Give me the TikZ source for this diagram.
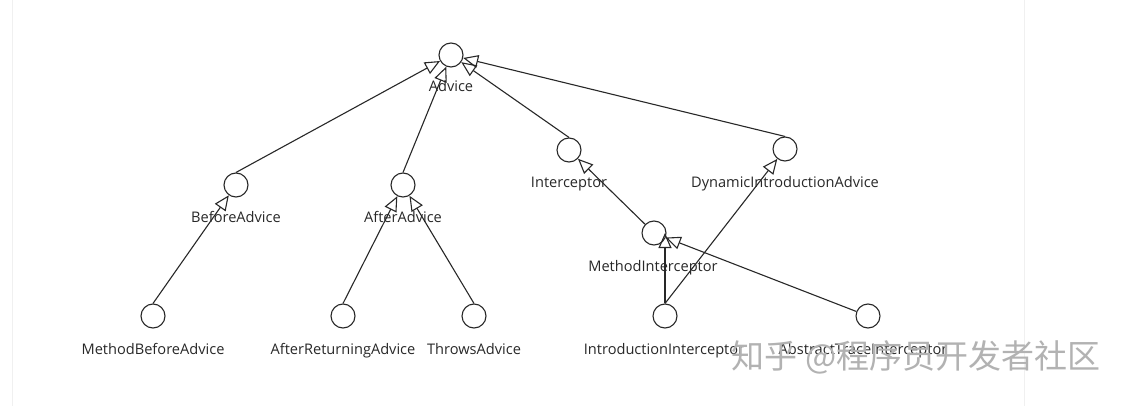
\documentclass[tikz,border=0pt]{standalone}
\usepackage{fontspec}
\setmainfont{Open Sans}
\newfontfamily\cjk{Noto Sans CJK SC}
\usetikzlibrary{arrows.meta}
\definecolor{ink}{RGB}{40,40,40}
\definecolor{wm}{RGB}{178,178,178}
\definecolor{edge}{RGB}{240,240,240}
\begin{document}
\begin{tikzpicture}[x=1pt,y=-1pt,
  cls/.style={circle,draw=ink,line width=1.1pt,minimum size=24pt,inner sep=0pt},
  lbl/.style={anchor=base,text=ink,font=\fontsize{14.6}{16}\selectfont,inner sep=0pt},
  gen/.style={draw=ink,line width=1.1pt,-{Triangle[open,length=15pt,width=13pt,line width=1.1pt]}}]
\path[use as bounding box,fill=white] (0,0) rectangle (1131,406);
\draw[edge,line width=0.8pt] (12,0) -- (12,406);
\draw[edge,line width=0.8pt] (1024,0) -- (1024,406);
% class circles
\node[cls] (adv) at (451,55) {};
\node[cls] (ba)  at (236,185) {};
\node[cls] (aa)  at (403,185) {};
\node[cls] (ic)  at (569,150) {};
\node[cls] (dia) at (785,149) {};
\node[cls] (mi)  at (654,233) {};
\node[cls] (mba) at (153,316) {};
\node[cls] (ara) at (343,316) {};
\node[cls] (ta)  at (474,316) {};
\node[cls] (ii)  at (665,316) {};
\node[cls] (ati) at (868,316) {};
% labels
\node[lbl] (advl) at (451,92) {Advice};
\node[lbl] (bal)  at (236,222) {BeforeAdvice};
\node[lbl] (aal)  at (403,222) {AfterAdvice};
\node[lbl] (icl)  at (569,187) {Interceptor};
\node[lbl] (dial) at (785,187) {DynamicIntroductionAdvice};
\node[lbl] (mil)  at (653,271) {MethodInterceptor};
\node[lbl] (mbal) at (153,354) {MethodBeforeAdvice};
\node[lbl] (aral) at (343,354) {AfterReturningAdvice};
\node[lbl] (tal)  at (474,354) {ThrowsAdvice};
\node[lbl] (iil)  at (664,354) {IntroductionInterceptor};
\node[lbl] (atil) at (863,354) {AbstractTraceInterceptor};
% generalizations
\draw[gen] (ba.north) -- (adv);
\draw[gen] (aa.north) -- (adv);
\draw[gen] (ic.north) -- (adv);
\draw[gen] (dia.north) -- (adv);
\draw[gen] (mba.north) -- (ba);
\draw[gen] (ara.north) -- (aa);
\draw[gen] (ta.north) -- (aa);
\draw[gen] (mi) -- (ic);
\draw[gen] (ii.north) -- (ii.north |- mi.east);
\draw[gen] (ii.north) -- (dia);
\draw[gen] (ati) -- (mi);
% watermark
\node[text=wm,font=\cjk\fontsize{33}{36}\selectfont,inner sep=0pt] (wmk) at (916,357) {知乎 @程序员开发者社区};
\end{tikzpicture}
\end{document}
